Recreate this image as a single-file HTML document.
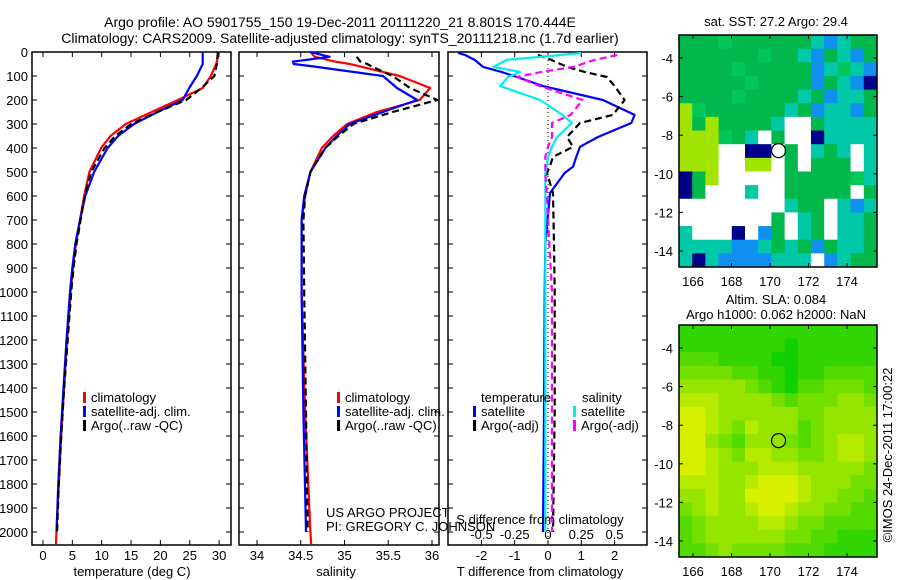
<!DOCTYPE html>
<html><head><meta charset="utf-8">
<style>
html,body{margin:0;padding:0;background:#fff;}
svg{display:block;font-family:"Liberation Sans",sans-serif;}
text{font-size:13px;fill:#000;}
</style></head>
<body>
<svg id="fig" width="900" height="580" viewBox="0 0 900 580" xmlns="http://www.w3.org/2000/svg">
<text x="340" y="27" text-anchor="middle" style="font-size:14px">Argo profile: AO 5901755_150 19-Dec-2011 20111220_21 8.801S 170.444E</text>
<text x="340" y="43" text-anchor="middle" style="font-size:14px">Climatology: CARS2009. Satellite-adjusted climatology: synTS_20111218.nc (1.7d earlier)</text>
<g id="p1"></g>
<g id="p2"></g>
<g id="p3"></g>
<g id="m1"></g>
<g id="m2"></g>
<text x="326" y="517">US ARGO PROJECT</text>
<text x="326" y="531">PI: GREGORY C. JOHNSON</text>
<text x="132" y="576" text-anchor="middle">temperature (deg C)</text>
<text x="336" y="576" text-anchor="middle">salinity</text>
<text x="540" y="576" text-anchor="middle">T difference from climatology</text>
<text x="540" y="524" text-anchor="middle">S difference from climatology</text>
<text x="776" y="26" text-anchor="middle">sat. SST: 27.2 Argo: 29.4</text>
<text x="776" y="304" text-anchor="middle">Altim. SLA: 0.084</text>
<text x="776" y="319" text-anchor="middle">Argo h1000: 0.062 h2000: NaN</text>
<text transform="translate(892,455) rotate(-90)" text-anchor="middle">©IMOS 24-Dec-2011 17:00:22</text>
</svg>
<script>
// ---- data ----
const depthTicks=[0,100,200,300,400,500,600,700,800,900,1000,1100,1200,1300,1400,1500,1600,1700,1800,1900,2000];
const tTicks=[0,5,10,15,20,25,30];
const sTicks=[34,34.5,35,35.5,36];
const tdTicks=[-2,-1,0,1,2];
const sdTicks=[-0.5,-0.25,0,0.25,0.5];
const tDepth=[0,50,100,150,200,250,300,350,400,500,600,700,800,900,1000,1200,1400,1600,1800,2000,2050];
const tClim=[30,29.5,28.6,27.2,23,18.5,14.1,11.5,9.9,7.9,7.0,6.3,5.6,5.1,4.7,4.1,3.6,3.1,2.7,2.3,2.2];
const tSat=[27.2,27.2,26.2,24.9,23.8,19.5,15.5,12.8,11,8.7,7.2,6.3,5.5,5.0,4.6,4.0,3.5,3.0,2.6,2.3,null];
const tArgo=[29.8,29.6,29.2,27,24.4,19.5,15.0,12.3,10.5,8.2,7.1,6.4,5.7,5.2,4.8,4.2,3.6,3.1,2.7,2.4,null];
const sDepth=[0,20,40,50,60,100,150,200,250,300,350,400,500,600,700,1000,1500,2000,2050];
const sClim=[34.61,34.66,34.89,35.06,35.18,35.63,35.98,35.86,35.37,35.03,34.87,34.74,34.61,34.55,34.51,34.51,34.55,34.61,34.62];
const sSat=[34.61,34.83,34.41,34.42,34.64,35.44,35.60,35.83,35.44,35.06,34.91,34.78,34.61,34.54,34.51,34.51,34.53,34.56,null];
const sArgo=[null,35.14,35.18,35.26,35.31,35.55,35.75,36.06,35.55,35.10,34.93,34.78,34.61,34.55,34.53,34.54,34.56,34.58,null];
const dDepth=[4,12,33,62,83,104,142,200,262,296,354,395,437,478,504,588,800,1000,1500,2000];
const dTSat=[-2.7,-2.5,-2.2,-1.95,-1.4,-0.93,-0.15,1.65,2.6,2.5,1.5,0.96,0.85,0.75,0.5,0.06,-0.08,-0.1,-0.12,-0.15];
const dTArgo=[null,-0.3,0.1,0.57,1.1,1.77,2.0,2.3,1.95,0.96,0.57,0.75,0.15,0.05,-0.03,0.15,0.18,0.2,0.2,0.15];
const dSSat=[0.25,0.1,-0.31,-0.41,-0.21,-0.3,-0.36,-0.06,0.11,0.18,0.07,0.03,0,-0.01,-0.02,-0.02,-0.02,-0.02,-0.02,-0.02];
const dSArgo=[null,0.52,0.35,0.19,-0.05,-0.23,-0.06,0.26,0.17,0.03,0.03,0.0,-0.02,-0.02,-0.02,-0.01,0.01,0.03,0.03,0.03];
const sstGrid=["ggghggggggcbcgg","gggggghggcbgcbg","gggghgggggbchcb","ggggghggggbgcbd","gggghggggcgbccg","yhggggggcgbccbg","ygyggggcwwgcccc","yyyhgcwgwwdcccc","yyywwddwgwcgcwc","yyywwyywgwgggwc","dgywwwwwggggghc","dgwwwcwwgggggwg","wwwwwwwwcggwcbc","wwwwwwwgwcgwccg","cwwwdwbgwcgwccg","ccccbbcgcgbgccg","cdcbbbbcccwbcgg"];
const slaGrid=["111111111111111","111111110111111","222111100111111","333322110112222","444443210223332","555444432333443","665444444334444","775435444234444","774324443234554","765435544334554","665444555444443","555445666544433","445446666544332","345445665443322","234444554332222","234444443322111","223433332221111"];
const latTicks=[-4,-6,-8,-10,-12,-14];
const lonTicks=[166,168,170,172,174];
const argoLon=170.444, argoLat=-8.801;

const NS="http://www.w3.org/2000/svg";
function mk(parent,tag,attrs,txt){const e=document.createElementNS(NS,tag);for(const k in attrs)e.setAttribute(k,attrs[k]);if(txt!==undefined)e.textContent=txt;parent.appendChild(e);return e;}
const Y0=52, PX=0.24;
const yD=d=>Y0+d*PX;
const BOT=545;

function frame(g,x0,x1,name){
  const r=mk(g,'rect',{x:x0,y:Y0,width:x1-x0,height:BOT-Y0,fill:'none',stroke:'#000','stroke-width':1.5});
  
  
  depthTicks.forEach(d=>{
    mk(g,'line',{x1:x0,x2:x0+5,y1:yD(d),y2:yD(d),stroke:'#000'});
    mk(g,'line',{x1:x1-5,x2:x1,y1:yD(d),y2:yD(d),stroke:'#000'});
  });
}
function xTicks(g,ticks,fx,y,labelY,fmt,name){
  ticks.forEach(v=>{
    const x=fx(v);
    mk(g,'line',{x1:x,x2:x,y1:Y0,y2:Y0+5,stroke:'#000'});
    mk(g,'line',{x1:x,x2:x,y1:BOT-5,y2:BOT,stroke:'#000'});
    const t=mk(g,'text',{x:x,y:labelY,'text-anchor':'middle'},fmt(v));
    
    
  });
}
function line(g,xs,ds,fx,color,dash,name,w){
  let p='',pen=false;
  for(let i=0;i<xs.length;i++){
    if(xs[i]===null){pen=false;continue;}
    p+=(pen?'L':'M')+fx(xs[i]).toFixed(1)+','+yD(ds[i]).toFixed(1);pen=true;
  }
  const e=mk(g,'path',{d:p,fill:'none',stroke:color,'stroke-width':w||2.2,'stroke-dasharray':dash||'none','stroke-linejoin':'round'});
  
  
}
function legend(g,x,y,items,prefix){
  items.forEach((it,i)=>{
    mk(g,'rect',{x:x,y:y+i*14-10,width:3,height:11,fill:it[1]});
    const t=mk(g,'text',{x:x+8,y:y+i*14},it[0]);
    
    
  });
}
// panel 1
const p1=document.getElementById('p1');
frame(p1,32,231,'temperature-plot-area');
const fT=v=>43+v*5.87;
depthTicks.forEach(d=>{const t=mk(p1,'text',{x:28,y:yD(d)+5,'text-anchor':'end'},String(d));
  
  });
xTicks(p1,tTicks,fT,BOT,560,v=>String(v),'temperature-tick-label');
line(p1,tClim,tDepth,fT,'#f00',null,'temperature-climatology-line');
line(p1,tSat,tDepth,fT,'#00f',null,'temperature-satellite-line');
line(p1,tArgo,tDepth,fT,'#000','7,4','temperature-argo-line');
legend(p1,83,402,[['climatology','#f00'],['satellite-adj. clim.','#00f'],['Argo(..raw -QC)','#000']],'temperature');
// panel 2
const p2=document.getElementById('p2');
frame(p2,239,439,'salinity-plot-area');
const fS=v=>257+(v-34)*87.5;
xTicks(p2,sTicks,fS,BOT,560,v=>String(v),'salinity-tick-label');
line(p2,sClim,sDepth,fS,'#f00',null,'salinity-climatology-line');
line(p2,sSat,sDepth,fS,'#00f',null,'salinity-satellite-line');
line(p2,sArgo,sDepth,fS,'#000','7,4','salinity-argo-line');
legend(p2,337,402,[['climatology','#f00'],['satellite-adj. clim.','#00f'],['Argo(..raw -QC)','#000']],'salinity');
// panel 3
const p3=document.getElementById('p3');
frame(p3,448,647,'difference-plot-area');
const fTD=v=>548+v*33.3, fSD=v=>548+v*133;
xTicks(p3,tdTicks,fTD,BOT,560,v=>String(v),'t-diff-tick-label');
sdTicks.forEach(v=>{const t=mk(p3,'text',{x:fSD(v),y:539,'text-anchor':'middle'},String(v));
  
  });
mk(p3,'line',{x1:548,x2:548,y1:Y0,y2:BOT,stroke:'#000','stroke-dasharray':'1,3'});
line(p3,dTSat,dDepth,fTD,'#00f',null,'t-diff-satellite-line');
line(p3,dTArgo,dDepth,fTD,'#000','7,4','t-diff-argo-line');
line(p3,dSSat,dDepth,fSD,'#0ee',null,'s-diff-satellite-line');
line(p3,dSArgo,dDepth,fSD,'#f0f','7,4','s-diff-argo-line');
const tl=mk(p3,'text',{x:481,y:402},'temperature');


const sl=mk(p3,'text',{x:582,y:402},'salinity');


legend(p3,473,416,[['satellite','#00f'],['Argo(-adj)','#000']],'t-diff');
legend(p3,573,416,[['satellite','#0ee'],['Argo(-adj)','#f0f']],'s-diff');
// maps
const MX0=679,MX1=877;
const lonX=l=>693+(l-166)*19.25;
const sstCol={g:'#00b84c',h:'#00c858',c:'#00c8a8',b:'#1090f0',d:'#000088',w:'#ffffff',y:'#a0e400'};
function map(g,top,grid,colorFn,name){
  const H=232, rows=grid.length, cols=grid[0].length, cw=(MX1-MX0)/cols, ch=H/rows;
  const latY=l=>top+23+(-4-l)*19.3;
  for(let r=0;r<rows;r++)for(let c=0;c<cols;c++){
    const cell=mk(g,'rect',{x:(MX0+c*cw).toFixed(2),y:(top+r*ch).toFixed(2),width:(cw+0.5).toFixed(2),height:(ch+0.5).toFixed(2),fill:colorFn(grid[r][c])});
    
    
  }
  const fr=mk(g,'rect',{x:MX0,y:top,width:MX1-MX0,height:H,fill:'none',stroke:'#000','stroke-width':1.5});
  
  
  latTicks.forEach(l=>{const y=latY(l);
    mk(g,'line',{x1:MX0,x2:MX0+4,y1:y,y2:y,stroke:'#000'});
    mk(g,'line',{x1:MX1-4,x2:MX1,y1:y,y2:y,stroke:'#000'});
    const t=mk(g,'text',{x:673,y:y+5,'text-anchor':'end'},String(l));
    
    });
  lonTicks.forEach(l=>{const x=lonX(l);
    mk(g,'line',{x1:x,x2:x,y1:top,y2:top+4,stroke:'#000'});
    mk(g,'line',{x1:x,x2:x,y1:top+H-4,y2:top+H,stroke:'#000'});
    const t=mk(g,'text',{x:x,y:top+H+19,'text-anchor':'middle'},String(l));
    
    });
  const m=mk(g,'circle',{cx:lonX(argoLon),cy:latY(argoLat),r:7,fill:'none',stroke:'#000','stroke-width':1.2});
  
  
}
map(document.getElementById('m1'),35,sstGrid,k=>sstCol[k],'sst-map');
map(document.getElementById('m2'),325,slaGrid,k=>{const t=Math.min(1,((+k)+0.5)/6.5);const r=Math.round(t*215),gg=Math.round(205+t*35);return `rgb(${r},${gg},0)`;},'sla-map');
</script>
</body></html>
